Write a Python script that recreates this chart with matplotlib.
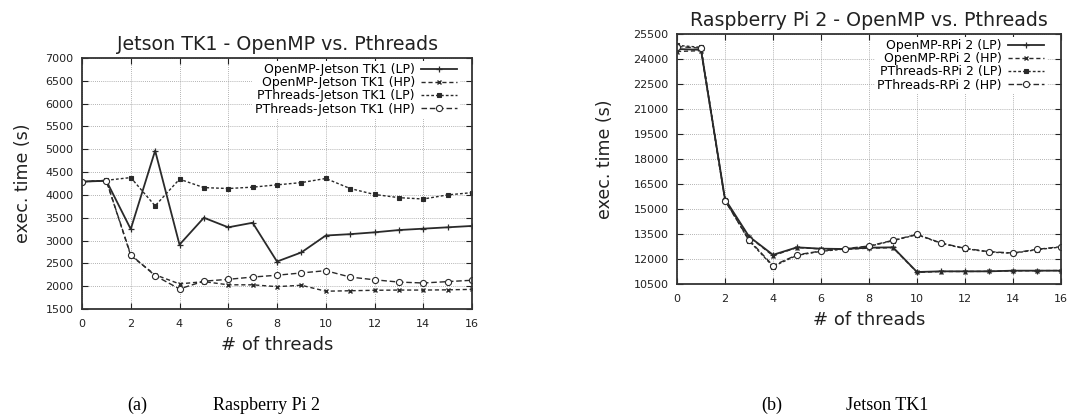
import matplotlib
matplotlib.use('Agg')
import matplotlib.pyplot as plt

threads = list(range(17))

# Jetson TK1 (left panel)
tk1_omp_lp = [4290, 4310, 3250, 4970, 2910, 3500, 3290, 3390, 2540, 2740, 3110, 3140, 3180, 3230, 3260, 3290, 3320]
tk1_omp_hp = [4290, 4310, 2670, 2250, 2050, 2100, 2030, 2030, 1990, 2020, 1890, 1900, 1910, 1915, 1915, 1920, 1930]
tk1_pth_lp = [4290, 4320, 4380, 3760, 4345, 4160, 4140, 4170, 4220, 4270, 4360, 4140, 4010, 3940, 3910, 4000, 4050]
tk1_pth_hp = [4290, 4310, 2690, 2230, 1940, 2110, 2150, 2200, 2240, 2290, 2340, 2200, 2140, 2090, 2070, 2100, 2130]

# Raspberry Pi 2 (right panel)
rpi_omp_lp = [24600, 24550, 15600, 13350, 12250, 12700, 12620, 12600, 12680, 12700, 11220, 11260, 11260, 11260, 11300, 11300, 11300]
rpi_omp_hp = [24450, 24500, 15500, 13330, 12200, 12690, 12600, 12580, 12650, 12680, 11200, 11250, 11250, 11260, 11290, 11300, 11310]
rpi_pth_lp = [24820, 24700, 15550, 13100, 11550, 12220, 12460, 12600, 12760, 13100, 13460, 12940, 12620, 12420, 12340, 12560, 12720]
rpi_pth_hp = [24750, 24650, 15500, 13150, 11600, 12250, 12480, 12620, 12780, 13120, 13480, 12960, 12640, 12440, 12360, 12580, 12740]

tk1_labels = ['OpenMP-Jetson TK1 (LP)', 'OpenMP-Jetson TK1 (HP)',
              'PThreads-Jetson TK1 (LP)', 'PThreads-Jetson TK1 (HP)']
rpi_labels = ['OpenMP-RPi 2 (LP)', 'OpenMP-RPi 2 (HP)',
              'PThreads-RPi 2 (LP)', 'PThreads-RPi 2 (HP)']

c = '#2a2a2a'
styles = [
    dict(ls='-', lw=1.3, marker='+', ms=5, mew=0.9),
    dict(ls=(0, (3, 2)), lw=1.0, marker='x', ms=3.5, mew=1.0),
    dict(ls=(0, (2, 1.5)), lw=1.0, marker='s', ms=3.4, mew=0.8),
    dict(ls=(0, (4, 2)), lw=1.0, marker='o', ms=4.4, mew=0.8, mfc='white'),
]


def panel(ax, series, labels, title, ylim, ystep, ylpad, anchor_x):
    for y, lab, st in zip(series, labels, styles):
        ax.plot(threads, y, color=c, mec=c, label=lab, **st)
    ax.set_xlim(0, 16)
    ax.set_ylim(*ylim)
    ax.set_xticks(range(0, 17, 2))
    ax.set_yticks(range(ylim[0], ylim[1] + 1, ystep))
    ax.grid(True, color='#9a9a9a', ls=(0, (1, 1.5)), lw=0.6)
    ax.tick_params(direction='in', top=True, right=True, labelsize=8,
                   length=4, width=0.8, colors='#222')
    ax.tick_params(axis='x', pad=7)
    ax.tick_params(axis='y', pad=6)
    for s in ax.spines.values():
        s.set_linewidth(1.3)
        s.set_color('#333')
    ax.set_title(title, fontsize=13.7, pad=6, color='#222')
    ax.set_xlabel('# of threads', fontsize=13, labelpad=5, color='#222')
    ax.set_ylabel('exec. time (s)', fontsize=12.5, labelpad=ylpad, color='#222')
    leg = ax.legend(loc='upper right', bbox_to_anchor=(anchor_x, 1.0),
                    markerfirst=False, fontsize=9, labelspacing=0.02,
                    handlelength=2.9, handletextpad=0.5,
                    borderaxespad=0.2, borderpad=0.2, frameon=True,
                    fancybox=False, framealpha=1)
    leg.get_frame().set_edgecolor('none')
    leg.get_frame().set_facecolor('white')


fig = plt.figure(figsize=(10.71, 4.2), dpi=100)
ax1 = fig.add_axes([82 / 1071, 1 - 309 / 420, 390 / 1071, 251 / 420])
ax2 = fig.add_axes([677 / 1071, 1 - 284 / 420, 384 / 1071, 250 / 420])

panel(ax1, [tk1_omp_lp, tk1_omp_hp, tk1_pth_lp, tk1_pth_hp], tk1_labels,
      'Jetson TK1 - OpenMP vs. Pthreads', (1500, 7000), 500, 10, 0.975)
panel(ax2, [rpi_omp_lp, rpi_omp_hp, rpi_pth_lp, rpi_pth_hp], rpi_labels,
      'Raspberry Pi 2 - OpenMP vs. Pthreads', (10500, 25500), 1500, 14, 0.97)

cap = dict(fontsize=13, family='Liberation Serif', va='center', color='black')
fig.text(137 / 1071, 1 - 405 / 420, '(a)', ha='center', **cap)
fig.text(213 / 1071, 1 - 405 / 420, 'Raspberry Pi 2', ha='left', **cap)
fig.text(772 / 1071, 1 - 405 / 420, '(b)', ha='center', **cap)
fig.text(846 / 1071, 1 - 405 / 420, 'Jetson TK1', ha='left', **cap)

fig.savefig('out.png', dpi=100, facecolor='white')
